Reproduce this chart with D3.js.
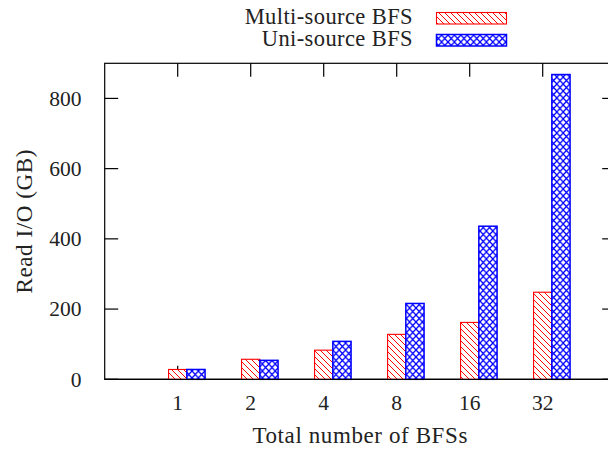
<!DOCTYPE html>
<html lang='en'>
  <head>
    <style type='text/css'>
      body {margin: 0; background-color: #fff;}
    </style>
  </head>
  <body>
    <svg id='chart' width='608' height='451'></svg>
    <script src='https://d3js.org/d3.v7.min.js'></script>
    <script type='text/javascript'>
        // Data
        var categories = ["1", "2", "4", "8", "16", "32"];
        var multiSource = [28, 57, 83, 128, 162, 248];
        var uniSource = [28, 54, 108, 216, 436, 868];
        var yTicks = [0, 200, 400, 600, 800];
        var seriesNames = ["Multi-source BFS", "Uni-source BFS"];

        var font = "Liberation Serif";
        var svg = d3.select("#chart");

        // Plot box (the right border falls just outside the window)
        var box = {left: 104.7, right: 615.7, top: 63.3, bottom: 379.3};
        var x = d3.scaleLinear().domain([-1, categories.length]).range([box.left, box.right]);
        var y = d3.scaleLinear().domain([0, 900]).range([box.bottom, box.top]);
        var barW = 0.25;
        var tickLen = 13.5;

        // Fill patterns
        var defs = svg.append("defs");
        var red = defs.append("pattern")
            .attr("id", "hatch").attr("patternUnits", "userSpaceOnUse")
            .attr("width", 6).attr("height", 6);
        red.append("rect").attr("width", 6).attr("height", 6).attr("fill", "#fff");
        red.append("path")
            .attr("d", "M0,0 L6,6 M-1,5 L1,7 M5,-1 L7,1")
            .attr("stroke", "#ff0000").attr("stroke-width", 1);

        var blue = defs.append("pattern")
            .attr("id", "cross").attr("patternUnits", "userSpaceOnUse")
            .attr("width", 6.4).attr("height", 7);
        blue.append("rect").attr("width", 6.4).attr("height", 7).attr("fill", "#fff");
        blue.append("path")
            .attr("d", "M0,0 L6.4,7 M6.4,0 L0,7")
            .attr("stroke", "#0000ff").attr("stroke-width", 1.3);

        // Frame
        var frame = svg.append("g").attr("stroke", "#000").attr("stroke-width", 1.2).attr("fill", "none");
        frame.append("rect")
            .attr("x", box.left).attr("y", box.top)
            .attr("width", box.right - box.left).attr("height", box.bottom - box.top);

        // Y ticks, mirrored on the right
        yTicks.forEach(function(t) {
          frame.append("line")
            .attr("x1", box.left).attr("x2", box.left + tickLen)
            .attr("y1", y(t)).attr("y2", y(t));
          frame.append("line")
            .attr("x1", box.right).attr("x2", box.right - tickLen)
            .attr("y1", y(t)).attr("y2", y(t));
        });

        // X ticks, mirrored on top
        categories.forEach(function(c, i) {
          frame.append("line")
            .attr("x1", x(i)).attr("x2", x(i))
            .attr("y1", box.bottom).attr("y2", box.bottom - tickLen);
          frame.append("line")
            .attr("x1", x(i)).attr("x2", x(i))
            .attr("y1", box.top).attr("y2", box.top + tickLen);
        });

        // Bars
        var bars = svg.append("g");
        bars.selectAll(".multi").data(multiSource).enter().append("rect")
          .attr("x", function(d, i){ return x(i - barW / 2); })
          .attr("width", function(d, i){ return x(i + barW / 2) - x(i - barW / 2); })
          .attr("y", function(d){ return y(d); })
          .attr("height", function(d){ return y(0) - y(d); })
          .attr("fill", "url(#hatch)")
          .attr("stroke", "#ff0000").attr("stroke-width", 1.1);

        bars.selectAll(".uni").data(uniSource).enter().append("rect")
          .attr("x", function(d, i){ return x(i + barW / 2); })
          .attr("width", function(d, i){ return x(i + 1.5 * barW) - x(i + barW / 2); })
          .attr("y", function(d){ return y(d); })
          .attr("height", function(d){ return y(0) - y(d); })
          .attr("fill", "url(#cross)")
          .attr("stroke", "#0000ff").attr("stroke-width", 1.5);

        // Redraw the base line over the bar outlines
        svg.append("line")
          .attr("x1", box.left).attr("x2", box.right)
          .attr("y1", box.bottom).attr("y2", box.bottom)
          .attr("stroke", "#000").attr("stroke-width", 1.2);

        // Tick labels
        svg.append("g").selectAll("text").data(yTicks).enter().append("text")
          .attr("x", 81.5)
          .attr("y", function(d){ return y(d) + 7.2; })
          .attr("text-anchor", "end")
          .attr("font-family", font).attr("font-size", 21.5)
          .attr("fill", "#222")
          .text(function(d){ return d; });

        svg.append("g").selectAll("text").data(categories).enter().append("text")
          .attr("x", function(d, i){ return x(i); })
          .attr("y", 409.5)
          .attr("text-anchor", "middle")
          .attr("font-family", font).attr("font-size", 21.5)
          .attr("fill", "#222")
          .text(function(d){ return d; });

        // Axis titles
        svg.append("text")
          .attr("x", (box.left + box.right) / 2).attr("y", 443)
          .attr("text-anchor", "middle")
          .attr("font-family", font).attr("font-size", 23)
          .attr("letter-spacing", 0.6)
          .attr("fill", "#222")
          .text("Total number of BFSs");

        svg.append("text")
          .attr("transform", "translate(32," + ((box.top + box.bottom) / 2) + ") rotate(-90)")
          .attr("text-anchor", "middle")
          .attr("font-family", font).attr("font-size", 23)
          .attr("letter-spacing", 0.6)
          .attr("fill", "#222")
          .text("Read I/O (GB)");

        // Legend
        var legend = svg.append("g");
        var fills = ["url(#hatch)", "url(#cross)"];
        var strokes = ["#ff0000", "#0000ff"];
        seriesNames.forEach(function(name, i) {
          var base = 24 + i * 22;
          legend.append("text")
            .attr("x", 413).attr("y", base)
            .attr("text-anchor", "end")
            .attr("font-family", font).attr("font-size", 22.5)
            .attr("letter-spacing", 0.4)
            .attr("fill", "#222")
            .text(name);
          legend.append("rect")
            .attr("x", 436.5).attr("y", base - 11.5)
            .attr("width", 70).attr("height", 11.5)
            .attr("fill", fills[i])
            .attr("stroke", strokes[i]).attr("stroke-width", i ? 1.5 : 1.1);
        });
    </script>
  </body>
</html>
